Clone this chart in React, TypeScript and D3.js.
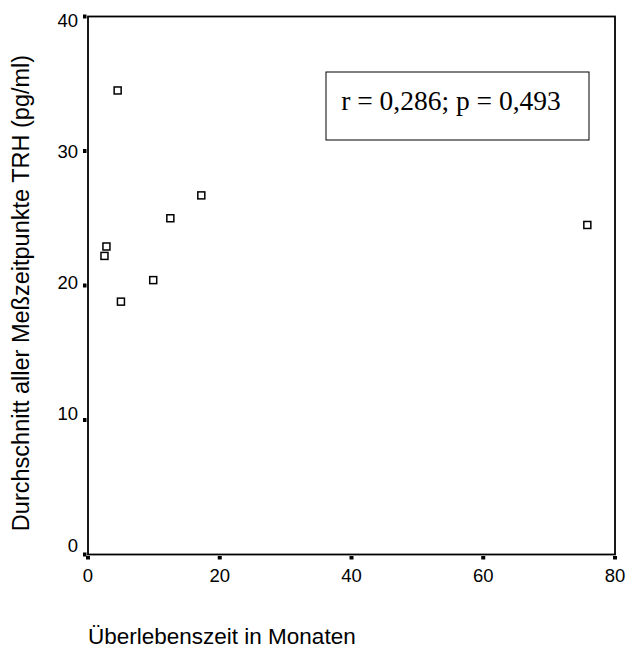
import React from "react";
import * as d3 from "d3";

// Survival time (months) and mean TRH over all measurement times (pg/ml)
const survivalMonths = [4.5, 17.2, 12.5, 2.8, 2.5, 9.9, 5.0, 75.8];
const meanTRH = [34.5, 26.7, 25.0, 22.9, 22.2, 20.4, 18.8, 24.5];

const xTicks = [0, 20, 40, 60, 80];
const yTicks = [0, 10, 20, 30, 40];

const statText = "r = 0,286; p = 0,493";
const xTitle = "Überlebenszeit in Monaten";
const yTitle = "Durchschnitt aller Meßzeitpunkte TRH (pg/ml)";

const W = 629;
const H = 650;
const plot = { left: 88, right: 615, top: 16.5, bottom: 554.5 };

export default function App() {
  const x = d3.scaleLinear().domain([0, 80]).range([plot.left, plot.right]);
  const y = d3.scaleLinear().domain([0, 40]).range([plot.bottom, plot.top]);
  // label centres on the value axis are spread slightly tighter than the ticks
  const yLabel = d3.scaleLinear().domain([0, 40]).range([545, 20]);

  const points = survivalMonths.map((m, i) => ({ m, v: meanTRH[i] }));
  const font = "'Liberation Sans', Arial, sans-serif";
  const m = 7;

  return (
    <svg
      width={W}
      height={H}
      style={{ position: "absolute", left: 0, top: 0, background: "#fff" }}
    >
      <rect width={W} height={H} fill="#fff" />
      {/* plot frame */}
      <rect
        x={plot.left}
        y={plot.top}
        width={plot.right - plot.left}
        height={plot.bottom - plot.top}
        fill="none"
        stroke="#000"
        strokeWidth={1.8}
      />
      {/* x ticks */}
      {xTicks.map((t) => (
        <g key={"x" + t}>
          <rect x={x(t) - 2} y={plot.bottom + 1.5} width={4} height={3.5} fill="#000" />
          <text
            x={x(t)}
            y={582}
            textAnchor="middle"
            fontFamily={font}
            fontSize={18.5}
            fill="#000"
          >
            {t}
          </text>
        </g>
      ))}
      {/* y ticks */}
      {yTicks.map((t) => (
        <g key={"y" + t}>
          <rect x={plot.left - 5} y={y(t) - 2} width={3.5} height={4} fill="#000" />
          <text
            x={78}
            y={yLabel(t)}
            textAnchor="end"
            dominantBaseline="central"
            fontFamily={font}
            fontSize={18.5}
            fill="#000"
          >
            {t}
          </text>
        </g>
      ))}
      {/* data points */}
      {points.map((p, i) => (
        <rect
          key={i}
          x={x(p.m) - m / 2}
          y={y(p.v) - m / 2}
          width={m}
          height={m}
          fill="#fff"
          stroke="#000"
          strokeWidth={1.5}
        />
      ))}
      {/* correlation box */}
      <rect x={326} y={72} width={263} height={68} fill="#fff" stroke="#000" strokeWidth={1} />
      <text
        x={451}
        y={110}
        textAnchor="middle"
        fontFamily="'Liberation Serif', 'Times New Roman', serif"
        fontSize={27.5}
        fill="#000"
      >
        {statText}
      </text>
      {/* axis titles */}
      <text x={88} y={644} fontFamily={font} fontSize={22.5} fill="#000">
        {xTitle}
      </text>
      <text
        transform={`translate(29, ${(58 + 528) / 2}) rotate(-90)`}
        textAnchor="middle"
        fontFamily={font}
        fontSize={23.5}
        fill="#000"
      >
        {yTitle}
      </text>
    </svg>
  );
}
